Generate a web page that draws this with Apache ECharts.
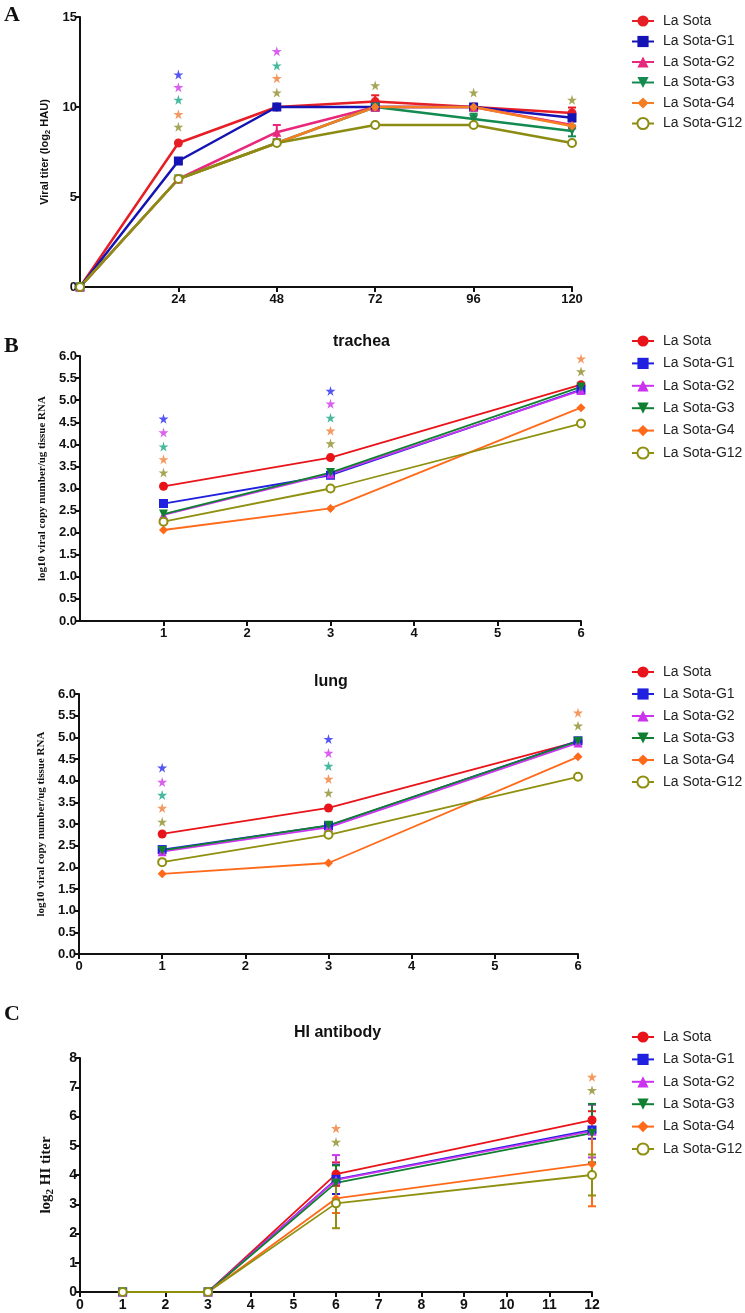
<!DOCTYPE html>
<html><head><meta charset="utf-8">
<script src="https://cdn.jsdelivr.net/npm/echarts@6/dist/echarts.min.js"></script>
<style>
html,body{margin:0;padding:0;background:#fff;width:745px;height:1313px;overflow:hidden;}
.p{position:absolute;left:0;width:745px;}
</style></head><body>
<div id="cA" class="p" style="top:0;height:310px"></div>
<div id="cB" class="p" style="top:305px;height:335px"></div>
<div id="cL" class="p" style="top:640px;height:345px"></div>
<div id="cC" class="p" style="top:985px;height:328px"></div>
<script>
// ---------- data ----------
const seriesNames = ['La Sota','La Sota-G1','La Sota-G2','La Sota-G3','La Sota-G4','La Sota-G12'];

// Panel A: viral titer (log2 HAU) vs hours
const hoursA = [0,24,48,72,96,120];
const aLaSota = [0,8,10,10.3,10,9.67];
const aG1     = [0,7,10,10,10,9.4];
const aG2     = [0,6,8.6,10,10,9.0];
const aG3     = [0,6,8,10,9.33,8.67];
const aG4     = [0,6,8,10,10,8.94];
const aG12    = [0,6,8,9,9,8];
const aErrLaSota = [0,0,0,0.35,0,0.3];
const aErrG1     = [0,0,0,0,0.15,0.2];
const aErrG2     = [0,0,0.4,0,0,0];
const aErrG3     = [0,0,0,0,0.3,0.3];
const aErrG4     = [0,0,0,0.2,0,0];
const aErrG12    = [0,0,0,0,0,0];
const aStarG1  = [[24,11.8]];
const aStarG2  = [[24,11.1],[48,13.1]];
const aStarG3  = [[24,10.4],[48,12.3]];
const aStarG4  = [[24,9.6],[48,11.6]];
const aStarG12 = [[24,8.9],[48,10.8],[72,11.2],[96,10.8],[120,10.4]];

// Panel B: trachea, log10 viral copy number / ug tissue RNA
const daysB = [1,3,6];
const tLaSota = [3.05,3.70,5.35];
const tG1     = [2.66,3.30,5.24];
const tG2     = [2.40,3.33,5.22];
const tG3     = [2.42,3.36,5.30];
const tG4     = [2.06,2.55,4.83];
const tG12    = [2.25,3.00,4.47];
const tStarG1  = [[1,4.58],[3,5.21]];
const tStarG2  = [[1,4.27],[3,4.92]];
const tStarG3  = [[1,3.95],[3,4.60]];
const tStarG4  = [[1,3.66],[3,4.31],[6,5.94]];
const tStarG12 = [[1,3.36],[3,4.02],[6,5.65]];

// Panel B: lung
const lLaSota = [2.77,3.37,4.90];
const lG1     = [2.41,2.96,4.92];
const lG2     = [2.36,2.92,4.87];
const lG3     = [2.39,2.97,4.91];
const lG4     = [1.85,2.10,4.55];
const lG12    = [2.12,2.75,4.09];
const lStarG1  = [[1,4.30],[3,4.96]];
const lStarG2  = [[1,3.97],[3,4.64]];
const lStarG3  = [[1,3.67],[3,4.34]];
const lStarG4  = [[1,3.37],[3,4.04],[6,5.57]];
const lStarG12 = [[1,3.05],[3,3.72],[6,5.27]];

// Panel C: HI antibody (log2 HI titer)
const weeksC = [1,3,6,12];
const cLaSota = [0,0,4.03,5.88];
const cG1     = [0,0,3.85,5.54];
const cG2     = [0,0,3.83,5.50];
const cG3     = [0,0,3.73,5.43];
const cG4     = [0,0,3.20,4.38];
const cG12    = [0,0,3.03,4.00];
const cErrLaSota = [0,0,0.4,0.3];
const cErrG1     = [0,0,0.5,0.3];
const cErrG2     = [0,0,0.85,0.9];
const cErrG3     = [0,0,0.6,1.0];
const cErrG4     = [0,0,0.5,1.45];
const cErrG12    = [0,0,0.85,0.7];
const cStarG4  = [[6,5.6],[12,7.35]];
const cStarG12 = [[6,5.13],[12,6.9]];

// ---------- styles ----------
const colorsA = ['#e61e25','#1414b4','#e8287c','#128a50','#f57d23','#8c8c14'];
const colorsB = ['#e8141a','#2020e0','#cc33ee','#108030','#ff6a1a','#909010'];
const starColors = {g1:'#2a2af0', g2:'#d03ae8', g3:'#19a887', g4:'#f0803a', g12:'#8f8f2a'};
const symbols = ['circle','rect','triangle','path://M0,0 L10,0 L5,10 Z','diamond','emptyCircle'];
const STAR = 'path://M50,0 L61,35 L98,35 L68,57 L79,91 L50,70 L21,91 L32,57 L2,35 L39,35 Z';
const FONT = 'Liberation Sans, Arial, sans-serif';
const SERIF = 'Liberation Serif, Times New Roman, serif';

function lineSeries(name, xs, ys, color, sym, lw, ss) {
  const empty = sym === 'emptyCircle';
  return {
    type:'line', name, data: xs.map((x,i)=>[x,ys[i]]),
    symbol: sym, symbolSize: empty ? ss-1 : ss, showSymbol:true,
    lineStyle:{color, width:lw},
    itemStyle: empty ? {color, borderColor:color, borderWidth:2} : {color},
    z:3
  };
}
function errSeries(xs, ys, errs, color, lw) {
  const data = [];
  xs.forEach((x,i)=>{ if (errs[i]>0) data.push([x, ys[i]-errs[i], ys[i]+errs[i]]); });
  return {
    type:'custom', silent:true, data, encode:{x:0,y:[1,2]}, z:2,
    renderItem:(params, api)=>{
      const x = api.value(0);
      const lo = api.coord([x, api.value(1)]);
      const hi = api.coord([x, api.value(2)]);
      const w = 4;
      const st = {stroke:color, lineWidth:lw};
      return {type:'group', children:[
        {type:'line', shape:{x1:lo[0],y1:lo[1],x2:hi[0],y2:hi[1]}, style:st},
        {type:'line', shape:{x1:hi[0]-w,y1:hi[1],x2:hi[0]+w,y2:hi[1]}, style:st},
        {type:'line', shape:{x1:lo[0]-w,y1:lo[1],x2:lo[0]+w,y2:lo[1]}, style:st}
      ]};
    }
  };
}
function starSeries(pts, color) {
  return {type:'scatter', data:pts, symbol:STAR, symbolSize:10, itemStyle:{color}, silent:true, z:4};
}
function axisX(min, max, interval, showMin, fs) {
  return {type:'value', min, max, interval,
    axisLine:{show:true, onZero:false, lineStyle:{color:'#111', width:2}},
    axisTick:{show:true, length:5, lineStyle:{color:'#111', width:2}},
    axisLabel:{showMinLabel:showMin, color:'#111', fontFamily:FONT, fontWeight:'bold', fontSize:fs, margin:6},
    splitLine:{show:false}};
}
function axisY(min, max, interval, fmt, name, nameStyle, gap, fs) {
  return {type:'value', min, max, interval, name, nameLocation:'middle', nameGap:gap,
    nameTextStyle: nameStyle,
    axisLine:{show:true, lineStyle:{color:'#111', width:2}},
    axisTick:{show:true, length:5, lineStyle:{color:'#111', width:2}},
    axisLabel:{color:'#111', fontFamily:FONT, fontWeight:'bold', fontSize:fs, margin:3, formatter:fmt},
    splitLine:{show:false}};
}
function legend(left, top, gap) {
  return {orient:'vertical', left, top, data: seriesNames, itemWidth:22, itemHeight:14, itemGap:gap,
    textStyle:{fontFamily:FONT, fontSize:14, color:'#222', padding:[0,0,0,4]}, selectedMode:false};
}
function letter(t, left, top) {
  return {type:'text', left, top, style:{text:t, font:'bold 22px '+SERIF, fill:'#111'}};
}
function titleCfg(text, left, top) {
  return {text, left, top, textStyle:{fontFamily:FONT, fontWeight:'bold', fontSize:16, color:'#111'}};
}

// ---------- Panel A ----------
const aVals = [aLaSota,aG1,aG2,aG3,aG4,aG12];
const aErrs = [aErrLaSota,aErrG1,aErrG2,aErrG3,aErrG4,aErrG12];
const seriesA = [];
aVals.forEach((v,i)=>seriesA.push(errSeries(hoursA, v, aErrs[i], colorsA[i], 2)));
aVals.forEach((v,i)=>seriesA.push(lineSeries(seriesNames[i], hoursA, v, colorsA[i], symbols[i], 2.5, 9)));
seriesA.push(starSeries(aStarG1, starColors.g1), starSeries(aStarG2, starColors.g2), starSeries(aStarG3, starColors.g3),
             starSeries(aStarG4, starColors.g4), starSeries(aStarG12, starColors.g12));
echarts.init(document.getElementById('cA')).setOption({
  animation:false,
  grid:{left:80, top:17, width:492, height:270, containLabel:false},
  xAxis: axisX(0,120,24,false,13),
  yAxis: axisY(0,15,5,null,'Viral titer (log{sub|2} HAU)',
    {fontFamily:FONT, fontWeight:'bold', fontSize:11, color:'#111', rich:{sub:{fontFamily:FONT, fontWeight:'bold', fontSize:8, color:'#111', padding:[6,0,0,0]}}}, 26, 13),
  legend: legend(626, 9, 6.5),
  graphic:[letter('A', 4, 4)],
  series: seriesA
});

// ---------- Panel B trachea / lung ----------
const yNameB = {fontFamily:SERIF, fontWeight:'bold', fontSize:11, color:'#111'};
const fmt1 = v=>v.toFixed(1);
function organOption(vals, stars, titleText, titleLeft, titleTop, grid, showMin, legTop, legGap, extraGraphic) {
  const s = [];
  vals.forEach((v,i)=>s.push(lineSeries(seriesNames[i], daysB, v, colorsB[i], symbols[i], 1.8, 9)));
  s.push(starSeries(stars[0], starColors.g1), starSeries(stars[1], starColors.g2), starSeries(stars[2], starColors.g3),
         starSeries(stars[3], starColors.g4), starSeries(stars[4], starColors.g12));
  return {
    animation:false,
    title: titleCfg(titleText, titleLeft, titleTop),
    grid,
    xAxis: axisX(0,6,1,showMin,13),
    yAxis: axisY(0,6,0.5,fmt1,'log10 viral copy number/ug tissue RNA', yNameB, 29, 13),
    legend: legend(626, legTop, legGap),
    graphic: extraGraphic,
    series: s
  };
}
echarts.init(document.getElementById('cB')).setOption(organOption(
  [tLaSota,tG1,tG2,tG3,tG4,tG12], [tStarG1,tStarG2,tStarG3,tStarG4,tStarG12],
  'trachea', 328, 24, {left:80, top:51, width:501, height:266}, false, 24, 8.4, [letter('B', 4, 30)]));
echarts.init(document.getElementById('cL')).setOption(organOption(
  [lLaSota,lG1,lG2,lG3,lG4,lG12], [lStarG1,lStarG2,lStarG3,lStarG4,lStarG12],
  'lung', 309, 29, {left:79, top:54, width:499, height:260}, true, 20, 8, []));

// ---------- Panel C ----------
const cVals = [cLaSota,cG1,cG2,cG3,cG4,cG12];
const cErrs = [cErrLaSota,cErrG1,cErrG2,cErrG3,cErrG4,cErrG12];
const seriesC = [];
cVals.forEach((v,i)=>seriesC.push(errSeries(weeksC, v, cErrs[i], colorsB[i], 2)));
cVals.forEach((v,i)=>seriesC.push(lineSeries(seriesNames[i], weeksC, v, colorsB[i], symbols[i], 1.8, 9)));
seriesC.push(starSeries(cStarG4, starColors.g4), starSeries(cStarG12, starColors.g12));
echarts.init(document.getElementById('cC')).setOption({
  animation:false,
  title: titleCfg('HI antibody', 289, 35),
  grid:{left:80, top:73, width:512, height:234},
  xAxis: axisX(0,12,1,true,14),
  yAxis: axisY(0,8,1,null,'log{sub|2} HI titer',
    {fontFamily:SERIF, fontWeight:'bold', fontSize:15, color:'#111', rich:{sub:{fontFamily:SERIF, fontWeight:'bold', fontSize:11, color:'#111', padding:[8,0,0,0]}}}, 24, 14),
  legend: legend(626, 40, 8.4),
  graphic:[letter('C', 4, 18)],
  series: seriesC
});
</script>
</body></html>
